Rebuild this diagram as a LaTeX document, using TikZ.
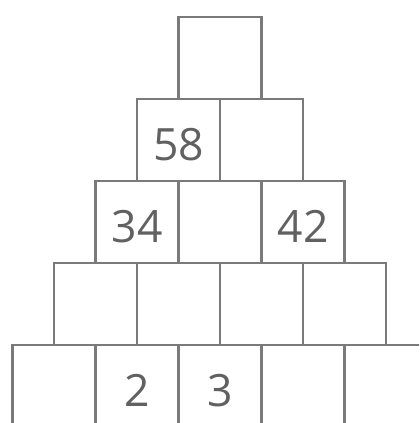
\documentclass[tikz,border=0pt]{standalone}
\usepackage{fontspec}
\setmainfont{Open Sans}
\begin{document}
\begin{tikzpicture}[x=0.03cm,y=-0.03cm,
  cell/.style={draw=black!52,line width=2.1pt,inner sep=0pt,
    minimum width=2.49cm,minimum height=2.46cm},
  num/.style={font=\fontsize{38}{38}\selectfont,text=black!62,yshift=-4pt}]
  \useasboundingbox (0,0) rectangle (419,423);
  \clip (0,0) rectangle (419,423);
  % pyramid of cells, row 0 at the top
  \foreach \r in {0,...,4}{
    \foreach \i in {0,...,\r}{
      \node[cell] (c-\r-\i) at ({220-\r*41.5+\i*83},{58+\r*82}) {};
    }
  }
  \node[num] (n58) at (c-1-0) {58};
  \node[num] (n34) at (c-2-0) {34};
  \node[num] (n42) at (c-2-2) {42};
  \node[num] (n2)  at (c-4-1) {2};
  \node[num] (n3)  at (c-4-2) {3};
\end{tikzpicture}
\end{document}
